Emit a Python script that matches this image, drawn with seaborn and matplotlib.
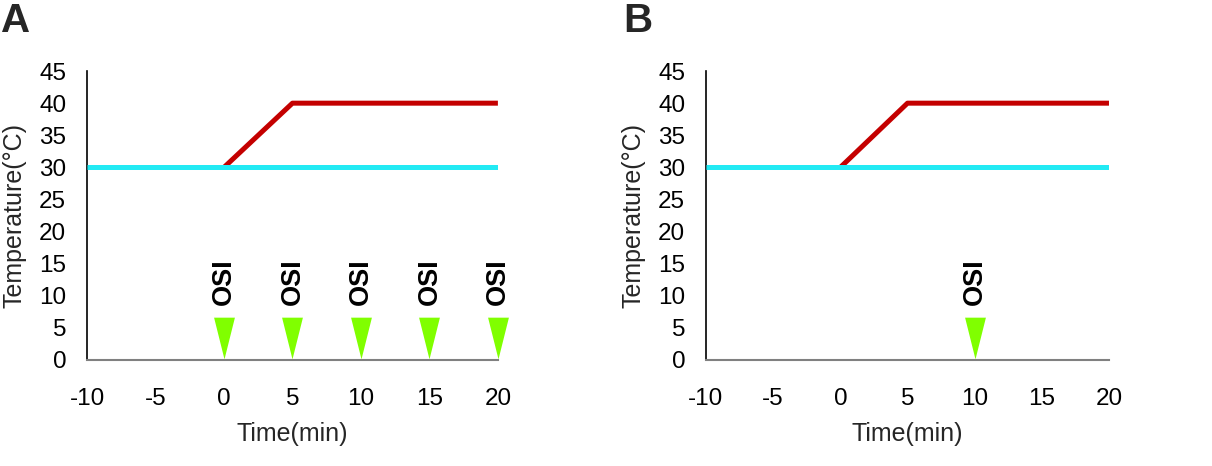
import numpy as np
import pandas as pd
import matplotlib
matplotlib.use("Agg")
import matplotlib.pyplot as plt
import seaborn as sns

# temperature protocol (minutes, degC)
heat_time = [0, 5, 20]
heat_temp = [30, 40, 40]
ctrl_time = [-10, 20]
ctrl_temp = [30, 30]

# OSI application times per panel
osi_times_a = [0, 5, 10, 15, 20]
osi_times_b = [10]

x_ticks = [-10, -5, 0, 5, 10, 15, 20]
y_ticks = [0, 5, 10, 15, 20, 25, 30, 35, 40, 45]
panel_letters = ["A", "B"]

RED = "#c40000"
CYAN = "#22eaf4"
GREEN = "#80ff00"

sns.set_theme(style="white")
plt.rcParams["font.family"] = ["Liberation Sans", "DejaVu Sans"]
plt.rcParams["axes.unicode_minus"] = False

fig = plt.figure(figsize=(12.12, 4.66), dpi=100)
ax_a = fig.add_axes([0.0718, 0.2275, 0.339, 0.62])
ax_b = fig.add_axes([0.5825, 0.2275, 0.3325, 0.62])

# tall downward triangle marker
tri = [(-0.5, 1.0), (0.5, 1.0), (0.0, -1.0), (-0.5, 1.0)]

heat_df = pd.DataFrame({"t": heat_time, "T": heat_temp})
ctrl_df = pd.DataFrame({"t": ctrl_time, "T": ctrl_temp})

for ax, osi, letter in zip([ax_a, ax_b], [osi_times_a, osi_times_b], panel_letters):
    sns.lineplot(data=heat_df, x="t", y="T", ax=ax, color=RED, linewidth=3.6,
                 solid_capstyle="butt", zorder=2)
    sns.lineplot(data=ctrl_df, x="t", y="T", ax=ax, color=CYAN, linewidth=3.6,
                 solid_capstyle="butt", zorder=3)

    osi_df = pd.DataFrame({"t": osi, "y": [3.4] * len(osi)})
    sns.scatterplot(data=osi_df, x="t", y="y", ax=ax, marker=tri, s=30 ** 2,
                    color=GREEN, linewidth=0, zorder=4, clip_on=False)
    for t in osi:
        ax.text(t, 8.5, "OSI", rotation=90, ha="center", va="bottom",
                fontsize=19.5, fontweight="bold", color="black")

    ax.set_xlim(-10, 20)
    ax.set_ylim(0, 45)
    ax.set_xticks(x_ticks)
    ax.set_yticks(y_ticks)
    ax.tick_params(axis="both", length=0, labelsize=17.5, colors="black")
    ax.tick_params(axis="y", pad=15)
    ax.tick_params(axis="x", pad=20)
    ax.set_xlabel("Time(min)", fontsize=18, labelpad=9)
    ax.set_ylabel("Temperature(\u00b0C)", fontsize=18, labelpad=9)

    for side in ["top", "right"]:
        ax.spines[side].set_visible(False)
    ax.spines["left"].set_color("black")
    ax.spines["left"].set_linewidth(1.2)
    ax.spines["bottom"].set_color("#808080")
    ax.spines["bottom"].set_linewidth(1.5)

fig.text(0.001, 0.995, "A", fontsize=29, fontweight="bold", va="top", ha="left")
fig.text(0.514, 0.995, "B", fontsize=29, fontweight="bold", va="top", ha="left")

fig.savefig("out.png", dpi=100)
